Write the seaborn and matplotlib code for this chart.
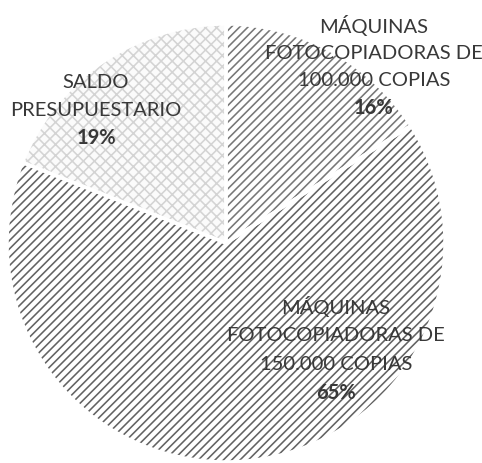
import matplotlib
matplotlib.use("Agg")
import matplotlib.pyplot as plt
import seaborn as sns

# ---- data ----
categories = ["MÁQUINAS\nFOTOCOPIADORAS DE\n100.000 COPIAS",
              "MÁQUINAS\nFOTOCOPIADORAS DE\n150.000 COPIAS",
              "SALDO\nPRESUPUESTARIO"]
values = [16, 65, 19]

# ---- style ----
sns.set_theme(style="white")
plt.rcParams['font.family'] = ['Lato', 'DejaVu Sans']
plt.rcParams['hatch.linewidth'] = 1.15

face_colors = ["#ffffff", "#ffffff", "#fbfbfb"]
hatch_colors = ["#777777", "#626262", "#d4d4d4"]
hatches = ["////", "////", "xxx"]
text_color = "#383838"

W, H, DPI = 482, 464, 100
fig = plt.figure(figsize=(W / DPI, H / DPI), dpi=DPI)
ax = fig.add_axes([0, 0, 1, 1])

# pie geometry in pixels (centre, radius)
cx, cy, R = 226, 244, 219

wedges, _ = ax.pie(values, startangle=90, counterclock=False, radius=1,
                   colors=face_colors, wedgeprops=dict(linewidth=0))
for w, h, hc in zip(wedges, hatches, hatch_colors):
    w.set_hatch(h)
    w.set_edgecolor(hc)
    w.set_linewidth(0)

# white separators
ax.pie(values, startangle=90, counterclock=False, radius=1,
       colors=["none"] * len(values),
       wedgeprops=dict(linewidth=2.5, edgecolor="white", fill=False))

ax.set_aspect('auto')
ax.set_xlim(-cx / R, (W - cx) / R)
ax.set_ylim(-(H - cy) / R, cy / R)
ax.axis('off')

# label layout (pixel anchors: x centre, first-line y, line step)
anchors = [(374, 26, 27.3), (336, 307, 28.7), (96, 82, 28)]

def to_data(px, py):
    return (px - cx) / R, (cy - py) / R

for text, v, (px, py0, step) in zip(categories, values, anchors):
    lines = text.split("\n")
    for i, line in enumerate(lines):
        x, y = to_data(px, py0 + i * step)
        ax.text(x, y, line, ha='center', va='center', fontsize=14.5,
                color=text_color)
    x, y = to_data(px, py0 + len(lines) * step)
    ax.text(x, y, f"{v}%", ha='center', va='center', fontsize=14.5,
            color=text_color, fontweight='bold')

fig.savefig("out.png", dpi=DPI)
